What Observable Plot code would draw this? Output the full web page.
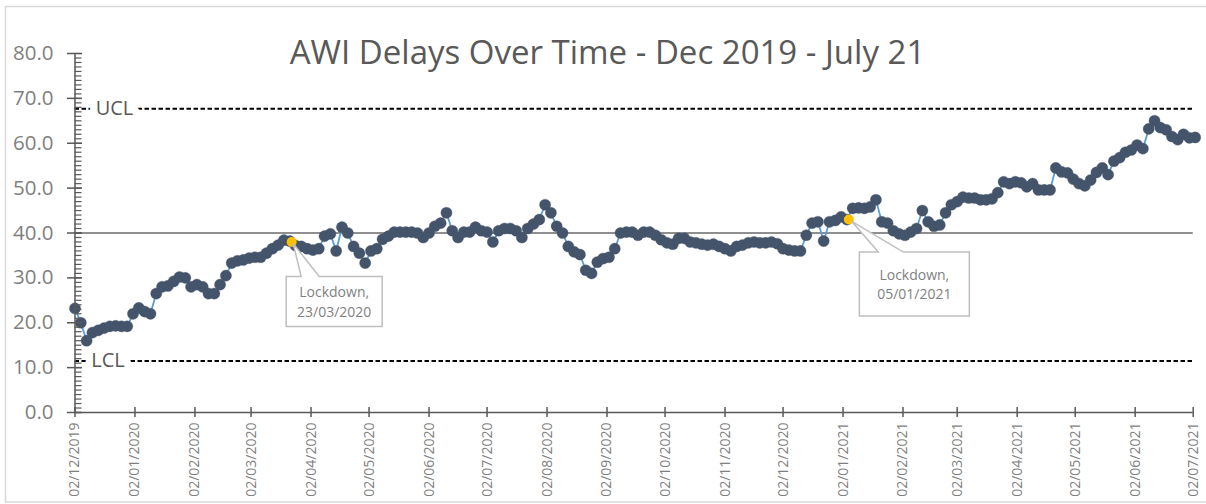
<!DOCTYPE html>
<html><head><meta charset="utf-8">
<script src="https://cdn.jsdelivr.net/npm/d3@7"></script>
<script src="https://cdn.jsdelivr.net/npm/@observablehq/plot@0.6"></script>
<style>
html,body{margin:0;padding:0;background:#fff;}
#chart{position:relative;width:1206px;height:504px;overflow:hidden;}
</style></head><body><div id="chart"></div>
<script>
// ---- data ----
const title = "AWI Delays Over Time - Dec 2019 - July 21";
const startDate = "2019-12-02";
const stepDays = 3;
const delayValues = [
  23.2, 20, 16, 17.8, 18.3, 18.8, 19.2, 19.3, 19.2, 19.2,
  22.0, 23.3, 22.5, 22, 26.5, 28, 28.2, 29.2, 30.2, 30,
  28, 28.5, 28, 26.5, 26.5, 28.5, 30.5, 33.3, 33.8, 34,
  34.4, 34.6, 34.6, 35.5, 36.5, 37.3, 38.4, 38.2, 37.2, 37,
  36.5, 36.2, 36.5, 39.3, 39.8, 36, 41.3, 40, 37, 35.5,
  33.3, 36, 36.5, 38.6, 39.3, 40.2, 40.2, 40.2, 40.2, 40,
  39, 40, 41.5, 42.2, 44.5, 40.5, 39, 40.2, 40.2, 41.3,
  40.5, 40.2, 38, 40.5, 41, 41, 40.5, 39, 41, 42,
  43, 46.3, 44.5, 41.5, 40, 37, 35.8, 35.2, 31.7, 31,
  33.5, 34.3, 34.6, 36.5, 40, 40.2, 40.2, 39.5, 40.2, 40.2,
  39.5, 38.5, 37.8, 37.5, 38.8, 38.8, 38, 37.8, 37.5, 37.3,
  37.5, 37, 36.5, 36, 37, 37.3, 37.8, 38, 37.8, 37.8,
  38, 37.6, 36.5, 36.2, 36, 36, 39.5, 42.2, 42.5, 38.2,
  42.5, 42.8, 43.6, 43, 45.5, 45.6, 45.5, 45.8, 47.4, 42.5,
  42.2, 40.5, 39.8, 39.5, 40.2, 41, 45, 42.5, 41.5, 41.8,
  44.5, 46.3, 47, 48, 47.8, 47.8, 47.4, 47.4, 47.6, 49,
  51.4, 51, 51.4, 51.2, 50.3, 51, 49.6, 49.6, 49.6, 54.5,
  53.6, 53.4, 52, 51, 50.5, 51.8, 53.5, 54.5, 53, 56,
  56.8, 58, 58.5, 59.6, 58.8, 63.2, 65, 63.5, 63, 61.5,
  60.8, 62, 61.2, 61.3
];
const xTickLabels = [
  "02/12/2019","02/01/2020","02/02/2020","02/03/2020","02/04/2020","02/05/2020",
  "02/06/2020","02/07/2020","02/08/2020","02/09/2020","02/10/2020","02/11/2020",
  "02/12/2020","02/01/2021","02/02/2021","02/03/2021","02/04/2021","02/05/2021",
  "02/06/2021","02/07/2021"
];
const yTickValues = [0, 10, 20, 30, 40, 50, 60, 70, 80];
const centreLine = 40;
const limitLabels = ["UCL", "LCL"];
const limitValues = [67.7, 11.5];
const lockdownDates = ["2020-03-23", "2021-01-05"];
const lockdownValues = [38.0, 43.0];
const lockdownLabels = ["Lockdown,\n23/03/2020", "Lockdown,\n05/01/2021"];

// ---- build tables ----
const parseTick = d3.utcParse("%d/%m/%Y");
const fmtTick = d3.utcFormat("%d/%m/%Y");
const xTicks = xTickLabels.map(parseTick);
const xStart = xTicks[0], xEnd = xTicks[xTicks.length - 1];
const series = delayValues.map((v, i) => ({date: d3.utcDay.offset(new Date(startDate), i * stepDays), value: v}));
const limits = limitLabels.map((l, i) => ({label: l, value: limitValues[i]}));
const lockdowns = lockdownDates.map((d, i) => ({date: new Date(d), value: lockdownValues[i], label: lockdownLabels[i]}));
const yMinor = d3.range(0, 81, 1);

const axisColor = "#595959";
const labelColor = "#7f7f7f";

const chart = Plot.plot({
  width: 1206, height: 504,
  marginLeft: 74.5, marginRight: 13.3, marginTop: 53, marginBottom: 92,
  style: {fontFamily: "'Open Sans', sans-serif", background: "#fff", overflow: "visible"},
  x: {type: "utc", domain: [xStart, xEnd], axis: null},
  y: {domain: [0, 80], axis: null},
  marks: [
    // centre line
    Plot.ruleY([centreLine], {stroke: "#6a6a6a", strokeWidth: 1.5}),
    // control limits
    Plot.ruleY(limits, {y: "value", stroke: "#000", strokeWidth: 2, strokeDasharray: "4.5,2.5"}),
    Plot.text(limits.filter(d => d.label === "UCL"), {x: () => xStart, y: "value", text: "label", dx: 39.5, fontSize: 20, fill: axisColor, stroke: "#fff", strokeWidth: 15, paintOrder: "stroke"}),
    Plot.text(limits.filter(d => d.label === "LCL"), {x: () => xStart, y: "value", text: "label", dx: 33, fontSize: 20, fill: axisColor, stroke: "#fff", strokeWidth: 15, paintOrder: "stroke"}),
    // series
    Plot.line(series, {x: "date", y: "value", stroke: "#5B9BD5", strokeWidth: 1.8}),
    Plot.dot(series, {x: "date", y: "value", r: 5.6, fill: "#44546A", stroke: "#44546A", strokeOpacity: 0.35, strokeWidth: 1}),
    Plot.dot(lockdowns, {x: "date", y: "value", r: 5, fill: "#FFC000"}),
    // axes
    Plot.ruleY([0], {stroke: axisColor, strokeWidth: 1.5}),
    Plot.ruleX([xStart], {stroke: axisColor, strokeWidth: 1.5}),
    Plot.ruleY(yMinor, {y: d => d, x1: () => xStart, x2: () => xStart, insetRight: -7, stroke: axisColor, strokeWidth: 1.2}),
    Plot.ruleY(yTickValues, {y: d => d, x1: () => xStart, x2: () => xStart, insetLeft: -7.5, insetRight: -7.5, stroke: axisColor, strokeWidth: 1.5}),
    Plot.ruleX(xTicks, {x: d => d, y1: () => 0, y2: () => 0, insetTop: -5, insetBottom: -5, stroke: axisColor, strokeWidth: 1.5}),
    Plot.text(yTickValues, {x: () => xStart, y: d => d, text: d => d.toFixed(1), textAnchor: "end", dx: -21.5, fontSize: 20.5, fill: labelColor}),
    Plot.text(xTicks, {x: d => d, y: () => 0, text: d => fmtTick(d), rotate: -90, textAnchor: "end", dy: 10, fontSize: 14, fill: labelColor}),
    // title
    Plot.text([title], {frameAnchor: "top", text: d => d, dx: -26.6, dy: -13.4, lineAnchor: "top", fontSize: 33, fill: axisColor})
  ]
});
document.getElementById("chart").appendChild(chart);

// ---- callouts (anchored through the plot's own scales) ----
const sx = chart.scale("x"), sy = chart.scale("y");
const svg = d3.select(chart);
const calloutStyles = [
  {l: -5, r: 91, t: 35, b: 85, b1: 10, b2: 28, tx: 2, ty: 2},
  {l: 11, r: 121, t: 33, b: 97, b1: 30, b2: 55, tx: 3, ty: 2}
];
const g = svg.append("g");
lockdowns.forEach((d, i) => {
  const s = calloutStyles[i];
  const px = sx.apply(d.date), py = sy.apply(d.value);
  const L = px + s.l, R = px + s.r, T = py + s.t, B = py + s.b;
  const path = `M${L},${T}L${px + s.b1},${T}L${px + s.tx},${py + s.ty}L${px + s.b2},${T}L${R},${T}L${R},${B}L${L},${B}Z`;
  g.append("path").attr("d", path).attr("fill", "#fff").attr("stroke", "#bfbfbf").attr("stroke-width", 1.5);
  const lines = d.label.split("\n");
  const cx = (L + R) / 2, cy = (T + B) / 2;
  lines.forEach((t, j) => {
    g.append("text").attr("x", cx).attr("y", cy + (j - (lines.length - 1) / 2) * 19.5)
      .attr("text-anchor", "middle").attr("dominant-baseline", "central")
      .attr("font-family", "'Open Sans', sans-serif").attr("font-size", 14).attr("fill", labelColor).text(t);
  });
});
// outer chart border
svg.append("rect").attr("x", 5.5).attr("y", 6.5).attr("width", 1210).attr("height", 495.5)
  .attr("fill", "none").attr("stroke", "#d9d9d9").attr("stroke-width", 1.5);
</script>
</body></html>
